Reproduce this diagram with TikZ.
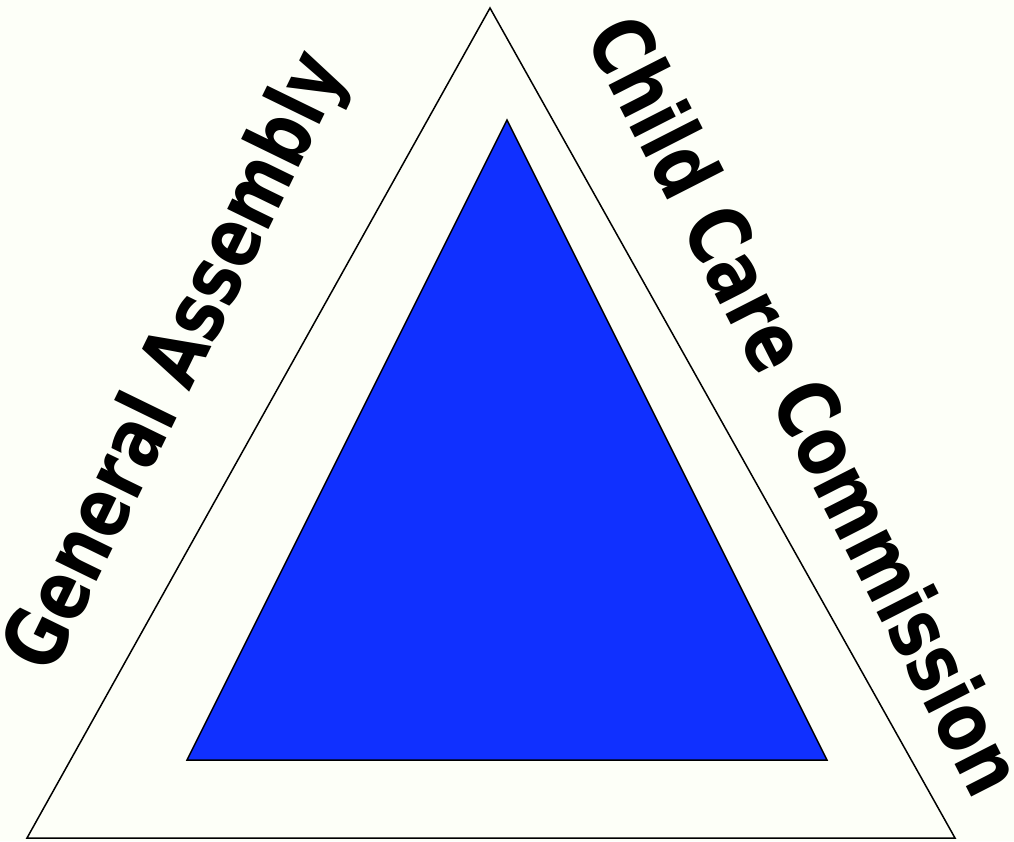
\documentclass[tikz,border=0pt]{standalone}
\usepackage{fontspec}
\newfontfamily\sidefont{DejaVu Sans Condensed}
\newcommand{\squeezed}[1]{\scalebox{0.88}[1]{#1}}

\begin{document}
\begin{tikzpicture}[x=1pt,y=-1pt]
  % colors
  \definecolor{paper}{RGB}{253,255,248}
  \definecolor{coreblue}{RGB}{16,48,255}

  % styles
  \tikzset{
    sidelabel/.style={font={\sidefont\bfseries\fontsize{84}{90}\selectfont}, inner sep=0pt, anchor=base},
    edge/.style={draw=black, line width=1.5pt}
  }

  % background
  \fill[paper] (0,0) rectangle (1014,841);
  \useasboundingbox (0,0) rectangle (1014,841);

  % outer triangle
  \coordinate (otop)   at (490,8);
  \coordinate (oleft)  at (27,838);
  \coordinate (oright) at (955,838);
  \draw[edge, fill=paper] (otop) -- (oleft) -- (oright) -- cycle;

  % inner triangle
  \coordinate (itop)   at (507,120);
  \coordinate (ileft)  at (187,760);
  \coordinate (iright) at (827,760);
  \draw[edge, fill=coreblue] (itop) -- (ileft) -- (iright) -- cycle;

  % labels
  \node[sidelabel, rotate=64]  (assembly)   at (199,373) {\squeezed{General Assembly}};
  \node[sidelabel, rotate=-63] (commission) at (779,419) {\squeezed{Child Care Commission}};
\end{tikzpicture}
\end{document}
